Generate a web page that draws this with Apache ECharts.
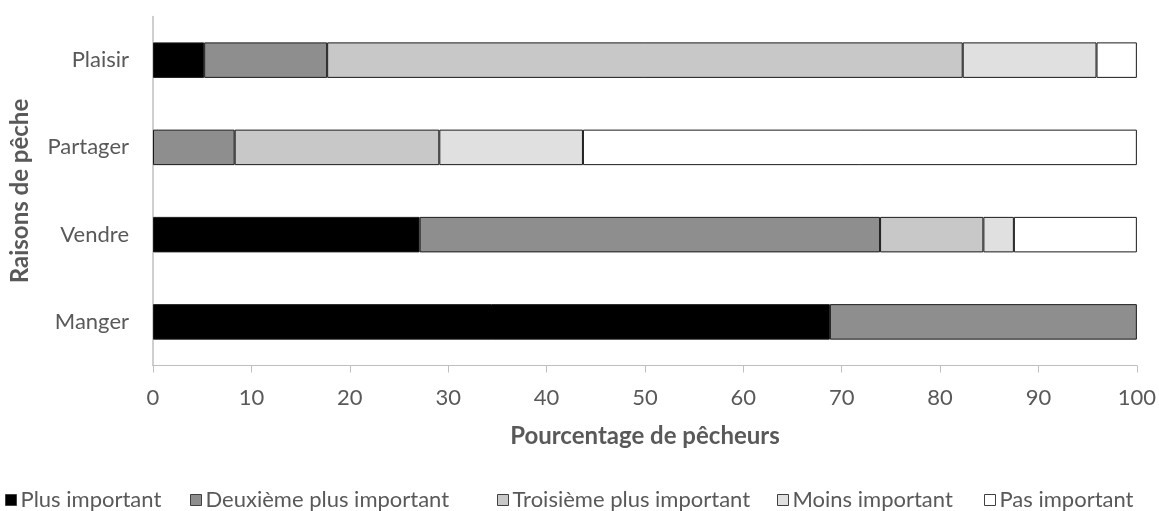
<!DOCTYPE html>
<html>
<head>
<meta charset="utf-8">
<script src="https://cdn.jsdelivr.net/npm/echarts@6/dist/echarts.min.js"></script>
<style>
  html, body { margin: 0; padding: 0; background: #ffffff; }
  #chart { width: 1159px; height: 511px; }
</style>
</head>
<body>
<div id="chart"></div>
<script>
// Reasons for fishing, listed bottom to top as on the category axis
const categories = ['Manger', 'Vendre', 'Partager', 'Plaisir'];

// Share of fishers (%) per importance rank
const plusImportant     = [68.8, 27.1, 0,    5.2];
const deuxiemeImportant = [31.2, 46.8, 8.3,  12.5];
const troisiemeImportant= [0,    10.5, 20.8, 64.6];
const moinsImportant    = [0,    3.1,  14.6, 13.6];
const pasImportant      = [0,    12.5, 56.3, 4.1];

const seriesNames = ['Plus important', 'Deuxième plus important', 'Troisième plus important', 'Moins important', 'Pas important'];
const seriesValues = [plusImportant, deuxiemeImportant, troisiemeImportant, moinsImportant, pasImportant];
const seriesColors = ['#000000', '#8e8e8e', '#c8c8c8', '#e0e0e0', '#ffffff'];

const xTicks = { min: 0, max: 100, interval: 10 };

const FONT = 'Lato, "Open Sans", sans-serif';
const TEXT = '#595959';
const AXIS = '#bfbfbf';

// one legend block per entry so each sits at its own spot on the bottom row
const legendLefts = [5, 190, 497, 777, 984];

const chart = echarts.init(document.getElementById('chart'), null, { renderer: 'canvas' });

chart.setOption({
  animation: false,
  backgroundColor: '#ffffff',
  textStyle: { fontFamily: FONT },
  grid: { left: 150.5, right: 22, top: 16.5, bottom: 145.5 },
  legend: seriesNames.map((name, i) => ({
    data: [name],
    left: legendLefts[i],
    top: 489,
    icon: 'rect',
    itemWidth: 11,
    itemHeight: 11,
    itemGap: 0,
    padding: 0,
    selectedMode: false,
    itemStyle: { borderColor: '#404040', borderWidth: 1 },
    textStyle: { fontFamily: FONT, fontSize: 22, color: TEXT, padding: [0, 0, 0, -1] }
  })),
  xAxis: {
    type: 'value',
    min: xTicks.min,
    max: xTicks.max,
    interval: xTicks.interval,
    name: 'Pourcentage de pêcheurs',
    nameLocation: 'middle',
    nameGap: 59,
    nameTextStyle: { fontFamily: FONT, fontSize: 24, fontWeight: 'bold', color: TEXT },
    axisLine: { show: true, lineStyle: { color: AXIS, width: 1 } },
    axisTick: { show: true, length: 7, lineStyle: { color: AXIS } },
    axisLabel: { fontFamily: FONT, fontSize: 22, color: TEXT, margin: 21 },
    splitLine: { show: false }
  },
  yAxis: {
    type: 'category',
    data: categories,
    name: 'Raisons de pêche',
    nameLocation: 'middle',
    nameGap: 121,
    nameRotate: 90,
    nameTextStyle: { fontFamily: FONT, fontSize: 24, fontWeight: 'bold', color: TEXT },
    axisLine: { show: true, lineStyle: { color: AXIS, width: 1.5 } },
    axisTick: { show: false },
    axisLabel: { fontFamily: FONT, fontSize: 22, color: TEXT, margin: 24 },
    splitLine: { show: false }
  },
  series: seriesNames.map((name, i) => ({
    name: name,
    type: 'bar',
    stack: 'total',
    barWidth: 35.5,
    itemStyle: { color: seriesColors[i], borderColor: '#1a1a1a', borderWidth: 1 },
    emphasis: { disabled: true },
    data: seriesValues[i].map(v => (v === 0 ? '-' : v))
  }))
});
</script>
</body>
</html>
